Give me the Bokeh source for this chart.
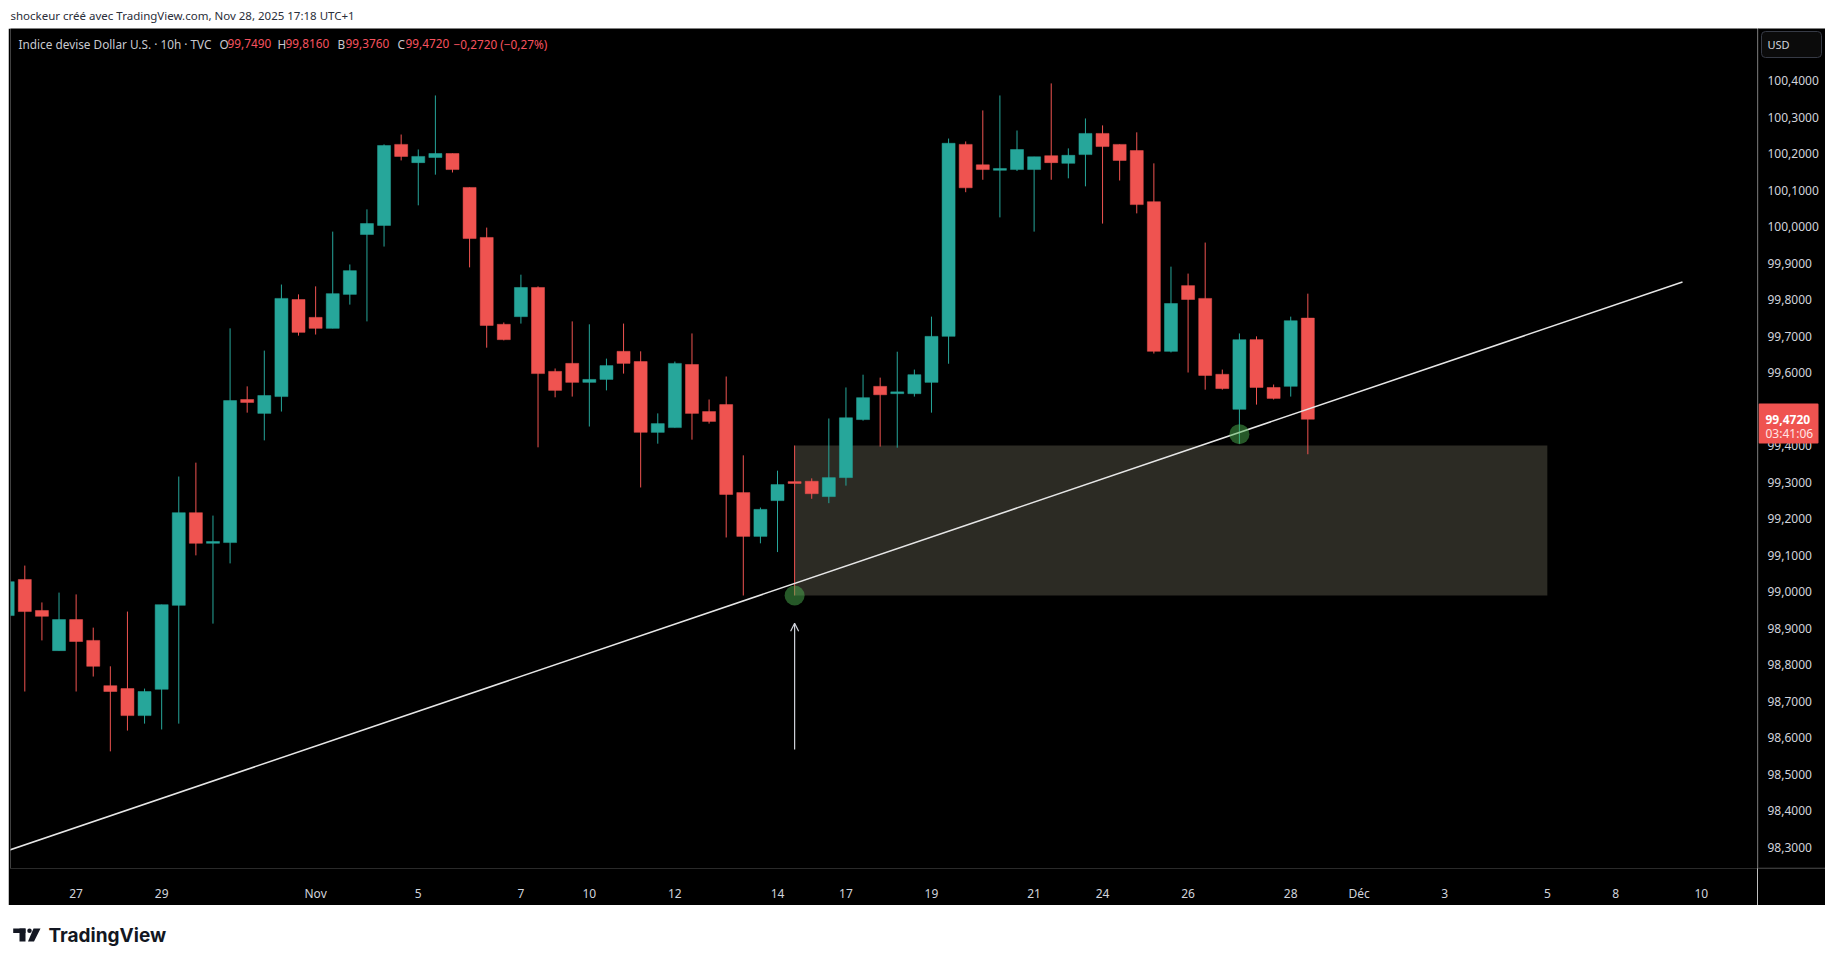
from bokeh.plotting import figure
from bokeh.models import (ColumnDataSource, Range1d, FixedTicker, Label, Arrow, OpenHead, Span)
from bokeh.core.properties import value
from bokeh.layouts import column, row
from bokeh.embed import file_html
from bokeh.resources import INLINE

# ---------------- data (10h bars, DXY) ----------------
bar_idx = list(range(77))
opens = [98.934, 99.033, 98.948, 98.838, 98.923, 98.866, 98.742, 98.734, 98.660, 98.732,
         98.962, 99.216, 99.132, 99.134, 99.526, 99.488, 99.534, 99.800, 99.751, 99.721,
         99.814, 99.978, 100.003, 100.225, 100.175, 100.189, 100.200, 100.107, 99.970, 99.732,
         99.753, 99.833, 99.603, 99.625, 99.573, 99.581, 99.658, 99.630, 99.436, 99.449,
         99.622, 99.493, 99.512, 99.271, 99.151, 99.249, 99.300, 99.302, 99.260, 99.312,
         99.471, 99.562, 99.543, 99.542, 99.573, 99.699, 100.225, 100.169, 100.155, 100.156,
         100.156, 100.194, 100.173, 100.197, 100.255, 100.225, 100.208, 100.068, 99.658, 99.838,
         99.803, 99.595, 99.499, 99.690, 99.559, 99.562, 99.749]
highs = [99.060, 99.071, 98.970, 98.997, 98.992, 98.901, 98.795, 98.945, 98.734, 98.964,
         99.315, 99.353, 99.208, 99.721, 99.562, 99.660, 99.841, 99.814, 99.836, 99.986,
         99.896, 100.047, 100.225, 100.252, 100.211, 100.359, 100.200, 100.107, 99.997, 99.737,
         99.868, 99.836, 99.611, 99.740, 99.732, 99.638, 99.734, 99.658, 99.488, 99.630,
         99.707, 99.526, 99.589, 99.373, 99.230, 99.331, 99.400, 99.310, 99.474, 99.559,
         99.594, 99.586, 99.657, 99.608, 99.753, 100.241, 100.233, 100.318, 100.359, 100.263,
         100.191, 100.392, 100.214, 100.296, 100.277, 100.225, 100.258, 100.173, 99.890, 99.871,
         99.956, 99.608, 99.707, 99.699, 99.567, 99.753, 99.816]
lows = [98.900, 98.726, 98.866, 98.838, 98.726, 98.767, 98.562, 98.619, 98.638, 98.622,
        98.638, 99.099, 98.912, 99.077, 99.490, 99.414, 99.493, 99.701, 99.704, 99.721,
        99.786, 99.740, 99.945, 100.181, 100.058, 100.142, 100.148, 99.888, 99.668, 99.688,
        99.734, 99.395, 99.532, 99.534, 99.452, 99.551, 99.597, 99.285, 99.405, 99.449,
        99.416, 99.460, 99.148, 98.989, 99.132, 99.108, 98.989, 99.254, 99.242, 99.290,
        99.468, 99.397, 99.394, 99.534, 99.490, 99.624, 100.094, 100.128, 100.025, 100.152,
        99.986, 100.128, 100.132, 100.110, 100.008, 100.126, 100.036, 99.652, 99.655, 99.600,
        99.553, 99.553, 99.405, 99.512, 99.526, 99.534, 99.376]
closes = [99.027, 98.945, 98.932, 98.923, 98.863, 98.795, 98.726, 98.660, 98.726, 98.964,
          99.216, 99.132, 99.137, 99.523, 99.518, 99.537, 99.803, 99.710, 99.721, 99.816,
          99.879, 100.008, 100.222, 100.192, 100.192, 100.200, 100.156, 99.967, 99.729, 99.690,
          99.833, 99.597, 99.551, 99.573, 99.581, 99.619, 99.625, 99.436, 99.460, 99.625,
          99.488, 99.466, 99.266, 99.151, 99.225, 99.293, 99.297, 99.268, 99.312, 99.476,
          99.531, 99.539, 99.546, 99.594, 99.699, 100.228, 100.106, 100.156, 100.158, 100.211,
          100.191, 100.175, 100.195, 100.255, 100.219, 100.181, 100.060, 99.658, 99.789, 99.800,
          99.592, 99.556, 99.690, 99.559, 99.529, 99.742, 99.472]

date_tick_idx = [4, 9, 18, 24, 30, 34, 39, 45, 49, 54, 60, 64, 69, 75, 79, 84, 90, 94, 99]
date_tick_labels = ["27", "29", "Nov", "5", "7", "10", "12", "14", "17", "19", "21", "24",
                    "26", "28", "Déc", "3", "5", "8", "10"]
price_ticks = [98.3, 98.4, 98.5, 98.6, 98.7, 98.8, 98.9, 99.0, 99.1, 99.2, 99.3,
               99.4, 99.5, 99.6, 99.7, 99.8, 99.9, 100.0, 100.1, 100.2, 100.3, 100.4]
price_tick_labels = ["98,3000", "98,4000", "98,5000", "98,6000", "98,7000", "98,8000",
                     "98,9000", "99,0000", "99,1000", "99,2000", "99,3000", "99,4000",
                     "99,5000", "99,6000", "99,7000", "99,8000", "99,9000", "100,0000",
                     "100,1000", "100,2000", "100,3000", "100,4000"]

# drawings
trend_x = [0.0, 97.9]
trend_y = [98.290, 99.848]
zone_x = [46, 90]
zone_y = [98.989, 99.400]
touch_x = [46, 72]
touch_y = [98.989, 99.431]
arrow_x = 46
arrow_y = [98.567, 98.913]

last_close = 99.472
last_price_label = "99,4720"
countdown_label = "03:41:06"
title_label = "Indice devise Dollar U.S. · 10h · TVC"
ohlc_keys = ["O", "H", "B", "C"]
ohlc_vals = ["99,7490", "99,8160", "99,3760", "99,4720"]
change_label = "\u22120,2720 (\u22120,27%)"
credit_label = "shockeur créé avec TradingView.com, Nov 28, 2025 17:18 UTC+1"
currency_label = "USD"

UP = "#26a69a"
DOWN = "#ef5350"
FONT = "Noto Sans"
TXT = "#d1d4dc"
SEP = "#2a2a2a"

# ---------------- pixel helpers (layout only) ----------------
IDX0_PX, BAR_PX = 7.2, 17.107
P_REF, PY_REF, PX_PER_UNIT = 100.4, 80.0, 365.0


def px2i(px):
    return (px - IDX0_PX) / BAR_PX


def py2p(py):
    return P_REF - (py - PY_REF) / PX_PER_UNIT


W = 1817
CH = 877

# ---------------- header ----------------
hdr = figure(width=W, height=20, x_range=Range1d(0, W), y_range=Range1d(20, 0),
             toolbar_location=None, output_backend="svg",
             x_axis_location=None, y_axis_location=None, min_border=0)
hdr.grid.visible = False
hdr.outline_line_color = None
hdr.background_fill_color = "white"
hdr.border_fill_color = "white"
hdr.add_layout(Label(x=2, y=7, text=credit_label, text_font=FONT, text_font_size="11.5px",
                     text_color="#2a2e39", text_baseline="middle", text_align="left"))

# ---------------- main chart ----------------
body_top = [max(o, c) for o, c in zip(opens, closes)]
body_bot = [min(o, c) for o, c in zip(opens, closes)]
body_bot = [b if t - b >= 0.005 else (t + b) / 2 - 0.0025 for t, b in zip(body_top, body_bot)]
body_top = [t if t - b >= 0.005 else b + 0.005 for t, b in zip(body_top, body_bot)]
colors = [UP if c >= o else DOWN for o, c in zip(opens, closes)]
src = ColumnDataSource(dict(x=bar_idx, o=opens, h=highs, l=lows, c=closes,
                            top=body_top, bot=body_bot, color=colors))

yr = Range1d(py2p(868), py2p(28))
p = figure(width=1749, height=CH,
           x_range=Range1d(px2i(10), px2i(1757)), y_range=yr,
           toolbar_location=None, output_backend="svg",
           y_axis_location=None, min_border_left=2, min_border_right=0,
           min_border_top=0, min_border_bottom=37)
p.background_fill_color = "#000000"
p.border_fill_color = "#000000"
p.outline_line_color = None
p.grid.visible = False

# date axis
xa = p.xaxis[0]
xa.ticker = FixedTicker(ticks=date_tick_idx)
xa.major_label_overrides = {i: s for i, s in zip(date_tick_idx, date_tick_labels)}
xa.major_tick_line_color = None
xa.major_tick_out = 0
xa.major_tick_in = 0
xa.minor_tick_line_color = None
xa.axis_line_color = SEP
xa.major_label_text_color = TXT
xa.major_label_text_font = FONT
xa.major_label_text_font_size = "12px"
xa.major_label_standoff = 16

# zone
p.quad(left=[zone_x[0]], right=[zone_x[1]], bottom=[zone_y[0]], top=[zone_y[1]],
       fill_color="#2c2b24", line_color=None)

# candles
p.segment(x0="x", y0="h", x1="x", y1="l", color="color", line_width=1, source=src)
p.vbar(x="x", width=0.76, top="top", bottom="bot", fill_color="color",
       line_color="color", line_width=0.5, source=src)

# trend line
p.line(trend_x, trend_y, line_color="#e6e6e6", line_width=1.5)

# touch points
p.scatter(touch_x, touch_y, size=20, fill_color="#4caf50", fill_alpha=0.5, line_color=None)

# arrow
p.add_layout(Arrow(end=OpenHead(size=8, line_color=TXT, line_width=1.2),
                   x_start=arrow_x, y_start=arrow_y[0], x_end=arrow_x, y_end=arrow_y[1],
                   line_color=TXT, line_width=1.2))

# legend line (top left)
hy = py2p(43)
HF = "11.8px"
p.add_layout(Label(x=px2i(18), y=hy, text=title_label, text_font=FONT, text_font_size=HF,
                   text_color="#c8cad1", text_baseline="middle", text_align="left"))
key_px = [219, 277, 337, 397]
for k, v, kp in zip(ohlc_keys, ohlc_vals, key_px):
    p.add_layout(Label(x=px2i(kp), y=hy, text=k, text_font=FONT, text_font_size=HF,
                       text_color="#c8cad1", text_baseline="middle", text_align="left"))
    p.add_layout(Label(x=px2i(kp + 8), y=hy, text=v, text_font=FONT, text_font_size=HF,
                       text_color="#f7525f", text_baseline="middle", text_align="left"))
p.add_layout(Label(x=px2i(453), y=hy, text=change_label, text_font=FONT, text_font_size=HF,
                   text_color="#f7525f", text_baseline="middle", text_align="left"))

# ---------------- price scale panel ----------------
ps = figure(width=68, height=CH, x_range=Range1d(0, 68), y_range=yr,
            toolbar_location=None, output_backend="svg",
            x_axis_location=None, y_axis_location=None,
            min_border_left=0, min_border_right=0, min_border_top=0, min_border_bottom=37)
ps.background_fill_color = "#000000"
ps.border_fill_color = "#000000"
ps.outline_line_color = None
ps.grid.visible = False
ps.add_layout(Span(location=0.5, dimension="height", line_color=SEP, line_width=1))
ps.add_layout(Span(location=py2p(867.5), dimension="width", line_color=SEP, line_width=1))

tick_src = ColumnDataSource(dict(x=[10] * len(price_ticks), y=price_ticks, t=price_tick_labels))
ps.text(x="x", y="y", text="t", source=tick_src, text_font=value(FONT),
        text_font_size="12px", text_color=TXT, text_baseline="middle", text_align="left")

# currency box
ps.quad(left=[4], right=[64], top=[py2p(31)], bottom=[py2p(57)], fill_color="#0b0b0b",
        line_color="#363a45", line_width=1, border_radius=4)
ps.text(x=[10], y=[py2p(44)], text=[currency_label], text_font=value(FONT),
        text_font_size="11px", text_color=TXT, text_baseline="middle", text_align="left")

# last price tag
tag_top = last_close + 15.7 / PX_PER_UNIT
tag_bot = last_close - 24.3 / PX_PER_UNIT
ps.quad(left=[1], right=[61], top=[tag_top], bottom=[tag_bot], fill_color=DOWN,
        line_color=None, border_radius=1)
ps.text(x=[8], y=[last_close], text=[last_price_label], text_font=value(FONT),
        text_font_size="12px", text_font_style="bold", text_color="white",
        text_baseline="middle", text_align="left")
ps.text(x=[8], y=[last_close - 14.5 / PX_PER_UNIT], text=[countdown_label],
        text_font=value(FONT), text_font_size="12px", text_color="#ffe5e5",
        text_baseline="middle", text_align="left")

# ---------------- footer ----------------
ftr = figure(width=W, height=50, x_range=Range1d(0, W), y_range=Range1d(50, 0),
             toolbar_location=None, output_backend="svg",
             x_axis_location=None, y_axis_location=None, min_border=0)
ftr.grid.visible = False
ftr.outline_line_color = None
ftr.background_fill_color = "white"
ftr.border_fill_color = "white"
ftr.quad(left=[4.7, 11], right=[17, 17], top=[23, 23], bottom=[27.5, 36],
         fill_color="#131722", line_color=None)
ftr.scatter([21], [25.3], size=4.5, fill_color="#131722", line_color=None)
ftr.patch([25, 32, 25.5, 19.5], [23, 23, 36, 36], fill_color="#131722", line_color=None)
ftr.add_layout(Label(x=40, y=30, text="TradingView", text_font="Inter", text_font_size="19px",
                     text_font_style="bold", text_color="#131722", text_baseline="middle",
                     text_align="left"))

layout = column(hdr, row(p, ps, spacing=0), ftr, spacing=0, margin=(8, 0, 0, 8))
open("out.html", "w").write(file_html(layout, INLINE))
